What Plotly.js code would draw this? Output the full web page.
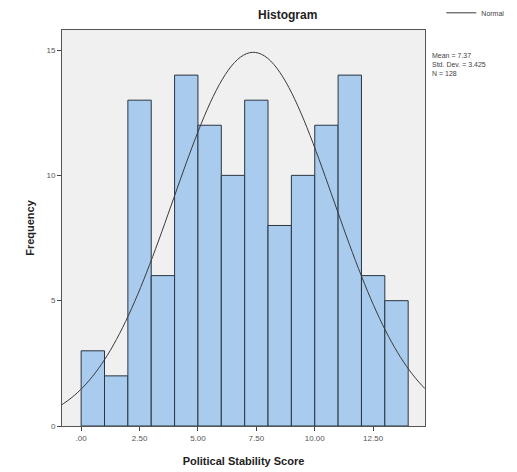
<!DOCTYPE html>
<html>
<head>
<meta charset="utf-8">
<script src="https://cdn.plot.ly/plotly-3.0.1.min.js"></script>
<style>html,body{margin:0;padding:0;background:#fff;}#chart{width:517px;height:472px;}</style>
</head>
<body>
<div id="chart"></div>
<script>
// Data
const binStarts = [0,1,2,3,4,5,6,7,8,9,10,11,12,13];
const frequencies = [3,2,13,6,14,12,10,13,8,10,12,14,6,5];
const binWidth = 1;
const meanValue = 7.37;
const stdDev = 3.425;
const nCount = 128;
const xTickVals = [0,2.5,5,7.5,10,12.5];
const xTickText = ['.00','2.50','5.00','7.50','10.00','12.50'];
const yTickVals = [0,5,10,15];
const yTickText = ['0','5','10','15'];

const xRange = [-0.82, 14.72];
const yRange = [0, 15.8];

// Normal curve defined by the stated Mean, Std. Dev. and N
const curveX = [], curveY = [];
const steps = 120;
for (let i = 0; i <= steps; i++) {
  const x = xRange[0] + (xRange[1] - xRange[0]) * i / steps;
  const z = (x - meanValue) / stdDev;
  curveX.push(x);
  curveY.push(nCount * binWidth / (stdDev * Math.sqrt(2 * Math.PI)) * Math.exp(-0.5 * z * z));
}

const bars = {
  type: 'bar', x: binStarts, y: frequencies, width: binWidth, offset: 0,
  marker: {color: '#a9cbee', line: {color: '#2a3542', width: 1}},
  showlegend: false, hoverinfo: 'skip'
};
const normal = {
  type: 'scatter', mode: 'lines', x: curveX, y: curveY, name: 'Normal',
  line: {color: '#3a3a3a', width: 1, shape: 'spline'}, showlegend: true
};

const font = 'Liberation Sans, Arial, sans-serif';
const layout = {
  width: 517, height: 472,
  margin: {l: 62, r: 92, t: 30, b: 46, autoexpand: false},
  paper_bgcolor: '#ffffff', plot_bgcolor: '#f0f0f0',
  font: {family: font, color: '#333'},
  bargap: 0,
  xaxis: {
    range: xRange, tickvals: xTickVals, ticktext: xTickText,
    ticks: 'outside', ticklen: 4, tickcolor: '#444', tickwidth: 1,
    showgrid: false, zeroline: false,
    showline: true, linecolor: '#555', linewidth: 1, mirror: true,
    tickfont: {size: 8, color: '#555', family: font},
    title: {text: '<b>Political Stability Score</b>', font: {size: 11, color: '#222', family: font}, standoff: 15}
  },
  yaxis: {
    range: yRange, tickvals: yTickVals, ticktext: yTickText,
    ticks: 'outside', ticklen: 4, tickcolor: '#444', tickwidth: 1,
    showgrid: false, zeroline: false,
    showline: true, linecolor: '#555', linewidth: 1, mirror: true,
    tickfont: {size: 8, color: '#555', family: font},
    title: {text: '<b>Frequency</b>', font: {size: 11, color: '#222', family: font}, standoff: 9}
  },
  showlegend: true,
  legend: {
    x: 1.045, xanchor: 'left', y: 1.08, yanchor: 'top',
    bgcolor: 'rgba(0,0,0,0)', font: {size: 7, color: '#444', family: font},
    itemwidth: 30, tracegroupgap: 0
  },
  annotations: [
    {text: '<b>Histogram</b>', xref: 'paper', yref: 'paper', x: 0.62, y: 1.0, yshift: 15,
     xanchor: 'center', yanchor: 'middle', showarrow: false, font: {size: 12, color: '#222', family: font}},
    {text: 'Mean = 7.37<br>Std. Dev. = 3.425<br>N = 128', xref: 'paper', yref: 'paper',
     x: 1.015, y: 0.95, xanchor: 'left', yanchor: 'top', align: 'left', showarrow: false,
     font: {size: 7, color: '#444', family: font}}
  ]
};

Plotly.newPlot('chart', [bars, normal], layout, {displayModeBar: false, staticPlot: true});
</script>
</body>
</html>
